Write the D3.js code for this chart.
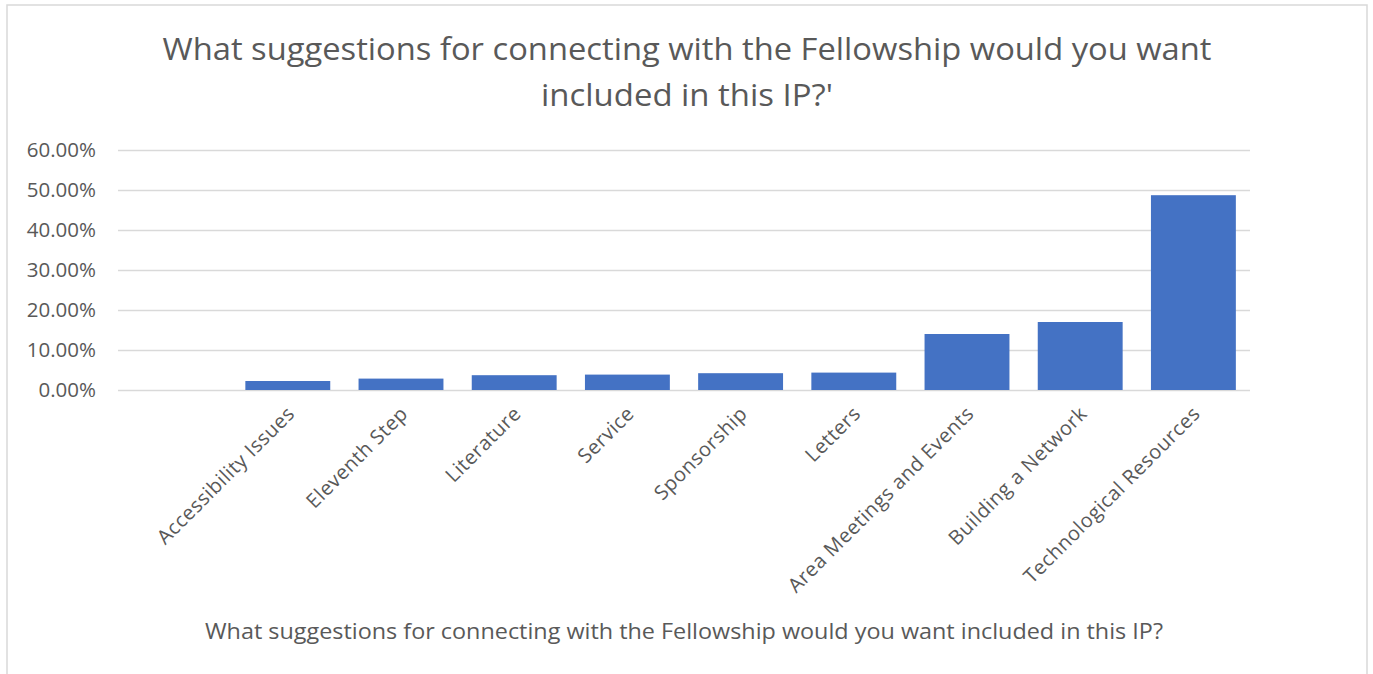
<!DOCTYPE html>
<html>
<head>
<meta charset="utf-8">
<title>Fellowship suggestions</title>
<script src="https://cdnjs.cloudflare.com/ajax/libs/d3/7.8.5/d3.min.js"></script>
<style>
  body { margin: 0; background: #fff; }
  text { font-family: "Open Sans", sans-serif; fill: #595959; }
  .grid line { stroke: #d9d9d9; stroke-width: 1.3px; }
  .grid .domain { display: none; }
</style>
</head>
<body>
<svg id="chart" width="1373" height="674"></svg>
<script>
// data
var categories = ["", "Accessibility Issues", "Eleventh Step", "Literature", "Service",
  "Sponsorship", "Letters", "Area Meetings and Events", "Building a Network", "Technological Resources"];
var values = [0, 0.0225, 0.0285, 0.037, 0.0385, 0.042, 0.0435, 0.14, 0.17, 0.487];
var yTicks = [0, 0.1, 0.2, 0.3, 0.4, 0.5, 0.6];
var titleLines = ["What suggestions for connecting with the Fellowship would you want", "included in this IP?'"];
var axisTitle = "What suggestions for connecting with the Fellowship would you want included in this IP?";

var svg = d3.select("#chart");

// outer frame (bottom edge is off the picture)
svg.append("rect")
  .attr("x", 7).attr("y", 5)
  .attr("width", 1360).attr("height", 700)
  .attr("fill", "none")
  .attr("stroke", "#d9d9d9")
  .attr("stroke-width", 1.5);

var x = d3.scaleBand()
  .domain(categories.map(function(d, i) { return i; }))
  .range([118, 1250])
  .padding(0);

var y = d3.scaleLinear()
  .domain([0, 0.6])
  .range([390, 150]);

// gridlines
svg.append("g")
  .attr("class", "grid")
  .attr("transform", "translate(118,0)")
  .call(d3.axisLeft(y).tickValues(yTicks).tickSize(-1132).tickFormat(""));

// y labels
svg.append("g")
  .selectAll("text")
  .data(yTicks)
  .enter().append("text")
  .attr("x", 96)
  .attr("y", function(d) { return y(d); })
  .attr("dy", "0.36em")
  .attr("text-anchor", "end")
  .style("font-size", "20.5px")
  .text(function(d) { return d3.format(".2%")(d); });

// bars
var barW = x.bandwidth() * 0.75;
svg.append("g")
  .selectAll("rect")
  .data(values)
  .enter().append("rect")
  .attr("x", function(d, i) { return x(i) + (x.bandwidth() - barW) / 2; })
  .attr("y", function(d) { return y(d); })
  .attr("width", barW)
  .attr("height", function(d) { return y(0) - y(d); })
  .attr("fill", "#4472c4");

// x labels, rotated
svg.append("g")
  .selectAll("text")
  .data(categories)
  .enter().append("text")
  .attr("transform", function(d, i) {
    return "translate(" + (x(i) + x.bandwidth() / 2 + 8) + ",415) rotate(-45)";
  })
  .attr("text-anchor", "end")
  .style("font-size", "20px")
  .style("letter-spacing", "0.5px")
  .text(function(d) { return d; });

// title
svg.append("g")
  .selectAll("text")
  .data(titleLines)
  .enter().append("text")
  .attr("x", 687)
  .attr("y", function(d, i) { return 60 + i * 46; })
  .attr("text-anchor", "middle")
  .style("font-size", "31px")
  .attr("textLength", function(d, i) { return i === 0 ? 1049 : 292; })
  .attr("lengthAdjust", "spacingAndGlyphs")
  .text(function(d) { return d; });

// axis title
svg.append("text")
  .attr("x", 684)
  .attr("y", 639)
  .attr("text-anchor", "middle")
  .style("font-size", "22px")
  .attr("textLength", 958)
  .attr("lengthAdjust", "spacingAndGlyphs")
  .text(axisTitle);
</script>
</body>
</html>
